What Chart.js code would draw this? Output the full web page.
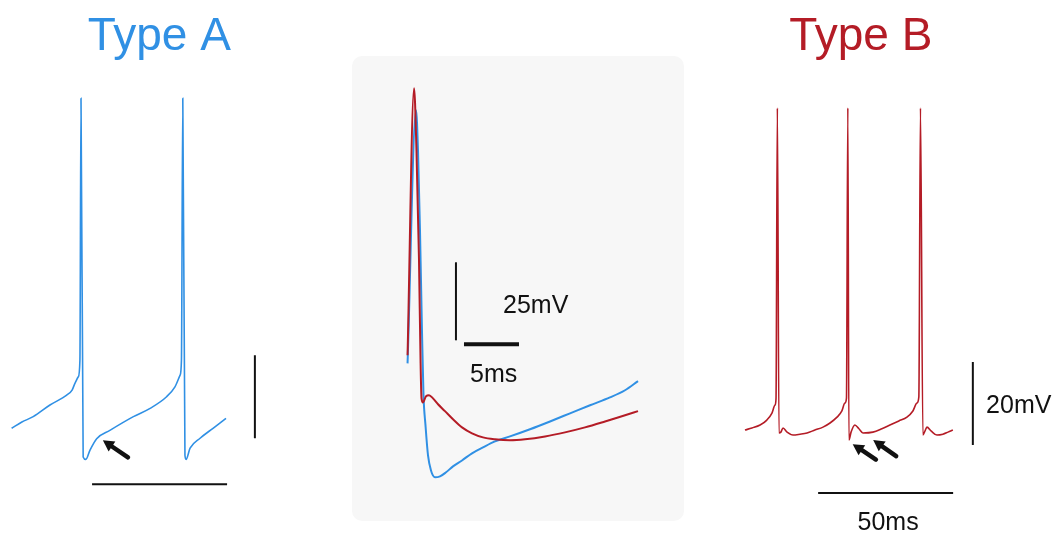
<!DOCTYPE html>
<html>
<head>
<meta charset="utf-8">
<script src="https://cdn.jsdelivr.net/npm/chart.js@4/dist/chart.umd.min.js"></script>
<style>
  body { margin: 0; background: #fff; }
  .wrap { position: relative; width: 1059px; height: 534px; overflow: hidden; }
  canvas { position: absolute; }
</style>
</head>
<body>
<div class="wrap">
  <canvas id="chartA" width="270" height="500" style="left:0px;top:0px"></canvas>
  <canvas id="chartMid" width="332" height="465" style="left:352px;top:56px"></canvas>
  <canvas id="chartB" width="327" height="534" style="left:732px;top:0px"></canvas>
</div>
<script>
// Type A trace (ms, mV)
var timeA = [0.6, 4.4, 8.6, 14.8, 21.0, 23.0, 24.1, 25.3, 25.9, 26.3, 27.1, 28.1, 29.6, 32.1, 37.0, 45.7, 51.9, 58.0, 61.1, 63.0, 63.5, 64.0, 64.8, 65.2, 66.7, 70.4, 75.2, 80.0];
var voltA = [-52.8, -51.3, -50.0, -47.2, -44.8, -43.6, -41.9, -40.4, -36.4, 26.7, -59.7, -60.3, -58.1, -55.3, -53.3, -50.0, -48.0, -45.2, -42.8, -40.0, -36.4, 26.7, -59.3, -60.3, -57.6, -55.2, -52.8, -50.4];

// Type B trace (ms, mV)
var timeB = [0, 2.6, 5.6, 8.1, 10.0, 11.1, 11.5, 12.0, 12.6, 13.3, 14.1, 15.6, 17.8, 20.4, 23.0, 25.9, 28.9, 31.5, 34.1, 35.9, 37.0, 37.6, 38.1, 38.5, 39.3, 40.7, 42.2, 43.7, 47.4, 50.7, 53.7, 57.0, 60.0, 62.2, 63.7, 64.4, 65.0, 65.9, 66.7, 67.4, 68.9, 71.1, 73.3, 75.2, 77.0];
var voltB = [-57.6, -57.1, -56.4, -55.2, -53.5, -51.6, -50.1, 20.0, -58.3, -58.1, -57.1, -58.1, -58.8, -58.6, -58.3, -57.6, -56.9, -55.9, -54.5, -53.0, -51.1, -49.9, 20.0, -60.0, -58.1, -56.4, -57.3, -58.3, -58.1, -57.3, -56.4, -55.4, -54.5, -53.0, -51.1, -49.6, 20.0, -58.8, -57.8, -56.9, -57.8, -58.8, -58.6, -58.1, -57.6];

// overlaid single spikes (ms, mV)
var timeMidB = [0.05, 0.64, 0.86, 1.09, 1.23, 1.32, 1.45, 1.73, 2.0, 2.36, 2.82, 3.45, 4.18, 5.0, 5.91, 6.91, 8.0, 9.36, 10.73, 12.55, 14.36, 16.18, 18.0, 19.82, 21.0];
var voltMidB = [-40.9, 44.7, 24.8, -10.4, -42.5, -54.7, -56.0, -54.0, -53.7, -54.7, -56.6, -58.8, -61.4, -64.0, -65.9, -67.2, -67.8, -68.1, -67.8, -66.9, -65.6, -64.0, -62.1, -60.1, -58.8];
var timeMidA = [0.05, 0.82, 1.0, 1.18, 1.36, 1.5, 1.68, 1.91, 2.18, 2.55, 3.0, 3.55, 4.18, 5.0, 5.91, 6.91, 8.0, 9.36, 11.18, 13.0, 14.82, 16.64, 18.45, 19.82, 21.0];
var voltMidA = [-43.5, 37.6, 24.8, -0.8, -32.9, -53.7, -63.3, -73.0, -77.8, -80.0, -79.7, -78.4, -76.5, -74.6, -72.3, -70.4, -68.5, -66.9, -64.6, -62.1, -59.5, -56.9, -54.4, -52.1, -49.2];

// scale bars
var vBarA_t = [90.7, 90.7], vBarA_v = [-55.2, -35.2];
var hBarA_t = [30.4, 80.4], hBarA_v = [-66.3, -66.3];
var vBarMid_t = [4.45, 4.45], vBarMid_v = [-36.1, -11.1];
var hBarMid_t = [5.18, 10.18], hBarMid_v = [-37.4, -37.4];
var vBarB_t = [84.4, 84.4], vBarB_v = [-61.2, -41.2];
var hBarB_t = [27.1, 77.1], hBarB_v = [-72.8, -72.8];

// arrows: [tip t, tip v, tail t, tail v]
var arrowsA = [[34.4, -55.7, 43.7, -59.8]];
var arrowsB = [[39.9, -61.0, 48.5, -64.7], [47.5, -60.0, 56.0, -63.9]];

var BLUE = 'rgb(48,144,228)';
var RED = 'rgb(180,28,38)';
var FONT = '"Liberation Sans", Arial, Helvetica, sans-serif';

function pts(xs, ys) {
  return xs.map(function (x, i) { return { x: x, y: ys[i] }; });
}

function line(xs, ys, color, width, smooth) {
  return {
    data: pts(xs, ys), borderColor: color, borderWidth: width, pointRadius: 0,
    cubicInterpolationMode: smooth ? 'monotone' : 'default', tension: 0,
    clip: false, fill: false
  };
}

// text, arrows and the panel background drawn on the chart's scales
var extras = {
  id: 'extras',
  beforeDraw: function (chart) {
    var o = chart.options.plugins.extras;
    if (o && o.background) {
      var ctx = chart.ctx;
      ctx.save();
      ctx.fillStyle = o.background;
      ctx.beginPath();
      ctx.roundRect(0, 0, chart.width, chart.height, 10);
      ctx.fill();
      ctx.restore();
    }
  },
  afterDatasetsDraw: function (chart) {
    var o = chart.options.plugins.extras;
    if (!o) return;
    var ctx = chart.ctx, xs = chart.scales.x, ys = chart.scales.y;
    ctx.save();
    (o.arrows || []).forEach(function (a) {
      var tx = xs.getPixelForValue(a[0]), ty = ys.getPixelForValue(a[1]);
      var bx = xs.getPixelForValue(a[2]), by = ys.getPixelForValue(a[3]);
      var ang = Math.atan2(ty - by, tx - bx);
      var head = 11, hw = 6;
      var hx = tx - Math.cos(ang) * head, hy = ty - Math.sin(ang) * head;
      ctx.strokeStyle = '#111';
      ctx.fillStyle = '#111';
      ctx.lineWidth = 4.5;
      ctx.lineCap = 'round';
      ctx.beginPath();
      ctx.moveTo(bx, by);
      ctx.lineTo(hx, hy);
      ctx.stroke();
      ctx.beginPath();
      ctx.moveTo(tx, ty);
      ctx.lineTo(hx + Math.sin(ang) * hw, hy - Math.cos(ang) * hw);
      ctx.lineTo(hx - Math.sin(ang) * hw, hy + Math.cos(ang) * hw);
      ctx.closePath();
      ctx.fill();
    });
    (o.texts || []).forEach(function (t) {
      ctx.font = t.font;
      ctx.fillStyle = t.color;
      ctx.textAlign = t.align;
      ctx.textBaseline = 'alphabetic';
      ctx.fillText(t.text, xs.getPixelForValue(t.x), ys.getPixelForValue(t.y));
    });
    ctx.restore();
  }
};

function makeChart(id, datasets, xmin, xmax, ymin, ymax, extraOpts) {
  return new Chart(document.getElementById(id), {
    type: 'line',
    data: { datasets: datasets },
    options: {
      responsive: false,
      animation: false,
      layout: { padding: 0 },
      scales: {
        x: { type: 'linear', display: false, min: xmin, max: xmax },
        y: { type: 'linear', display: false, min: ymin, max: ymax }
      },
      plugins: { legend: { display: false }, tooltip: { enabled: false }, extras: extraOpts }
    },
    plugins: [extras]
  });
}

makeChart('chartA', [
  line(timeA, voltA, BLUE, 1.6, true),
  line(vBarA_t, vBarA_v, '#111', 2),
  line(hBarA_t, hBarA_v, '#111', 2)
], -3.7, 96.3, -70.08, 50.4, {
  arrows: arrowsA,
  texts: [{ text: 'Type A', x: 55.3, y: 38.3, font: '46px ' + FONT, color: BLUE, align: 'center' }]
});

makeChart('chartMid', [
  line(timeMidB, voltMidB, RED, 2, true),
  line(timeMidA, voltMidA, BLUE, 2, true),
  line(vBarMid_t, vBarMid_v, '#111', 2),
  line(hBarMid_t, hBarMid_v, '#111', 4)
], -5, 25.18, -94, 55, {
  background: '#f7f7f7',
  texts: [
    { text: '25mV', x: 8.73, y: -27.4, font: '25px ' + FONT, color: '#111', align: 'left' },
    { text: '5ms', x: 5.73, y: -49.6, font: '25px ' + FONT, color: '#111', align: 'left' }
  ]
});

makeChart('chartB', [
  line(timeB, voltB, RED, 1.6, true),
  line(vBarB_t, vBarB_v, '#111', 2),
  line(hBarB_t, hBarB_v, '#111', 2)
], -4.8, 116.31, -82.65, 46.02, {
  arrows: arrowsB,
  texts: [
    { text: 'Type B', x: 42.9, y: 34.0, font: '46px ' + FONT, color: RED, align: 'center' },
    { text: '20mV', x: 89.3, y: -53.6, font: '25px ' + FONT, color: '#111', align: 'left' },
    { text: '50ms', x: 53.0, y: -81.7, font: '25px ' + FONT, color: '#111', align: 'center' }
  ]
});
</script>
</body>
</html>
